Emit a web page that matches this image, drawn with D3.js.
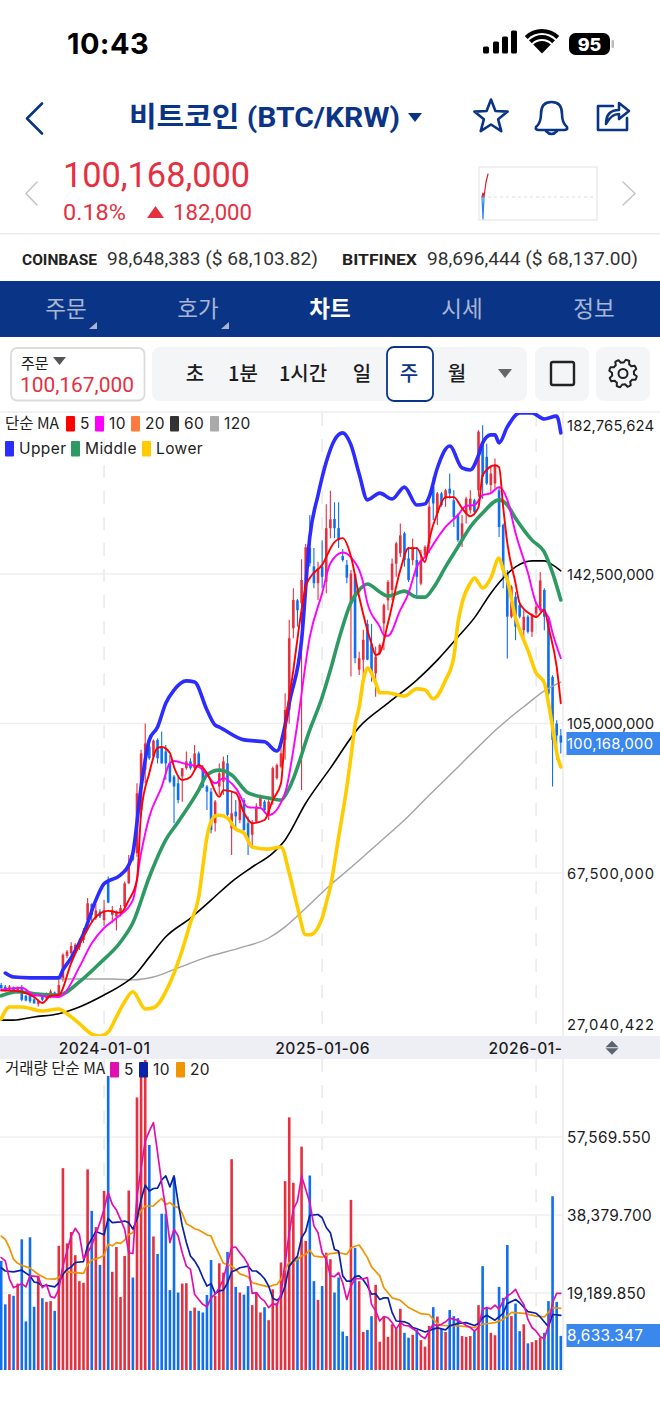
<!DOCTYPE html>
<html>
<head>
<meta charset="utf-8">
<style>
  html, body { margin: 0; padding: 0; background: #fff; }
  svg { display: block; }
  text { font-family: Inter, "Noto Sans CJK KR", sans-serif; }
  .kr { font-family: "Noto Sans CJK KR", sans-serif; }
  .rb { font-family: Roboto, "Noto Sans CJK KR", sans-serif; }
</style>
<script src="https://cdn.jsdelivr.net/npm/d3@7"></script>
</head>
<body>
<div id="chart"></div>
<script>
// weekly candles, millions of KRW, first visible week = 0
const candleOpen = [39.4,39,38.4,38.8,37.8,38.6,36.7,36.9,35.8,34.7,36.5,36.1,36.5,37.5,36.9,40.7,46.7,47.4,47.8,48.9,
  50.7,55.7,59.7,56.2,57.8,55.7,65.4,57,56.6,57.6,59.1,64.9,72.5,72.5,83.3,93.4,99.2,96.7,100.9,99.2,
  98,95,91.7,90,91.7,93.8,95.5,93.8,97.5,93.4,89.2,87.9,80,89.2,90.4,95,78.7,82.9,80.8,85.8,
  80,77.1,80.4,84.2,85.4,82.1,85.8,91.3,94.2,100.9,108.4,128.9,135.9,135.2,141,149,144.4,140.2,144.4,140.6,
  154,156.3,154,147,144.8,135,142.5,118.5,121,130,125,117.6,122.6,130.1,135.9,138.5,145.1,147.7,152.7,146.4,
  146,146,140.1,147.2,150.2,164.4,157.7,162.7,161.4,163.9,161,157.3,151.4,157.7,158.5,161,163.5,175.2,171.9,164.8,
  165.2,163.5,154.8,142.6,131.8,136.8,134.7,128.4,131.8,128,132.6,133.4,138.5,130.9,116.7,105,102];
const candleHigh = [39.9,39.4,39.4,39,39,39.4,36.9,37.8,36.5,35.7,36.9,37.5,38.3,37.8,40.7,47.4,48.2,50.1,49.9,51.1,
  53.7,61.2,59.9,59.7,58.4,60.8,66.6,59.2,58.1,59.5,65.4,72,73.1,90,98.4,105,100,101,101.3,103,
  99.6,97.1,92.1,92.1,93.8,98,96.3,99.6,98,94.6,89.6,88.8,85.8,95,96.7,97.1,87.9,85.8,87.1,86.3,
  81.7,80.8,85,87.1,85.8,86.3,94.2,95,100.9,112.6,131,138.9,136.2,146.2,150,157.3,149,145.6,151,160,
  163.4,160.5,160.5,148.8,146,143.5,142.6,123,128.5,131,130,124.3,125.1,135.1,141,146.4,150.6,155.2,153.1,149.3,
  151.4,149.3,148.5,149.7,161.9,166.9,163.1,163.1,163.9,167.7,163.5,157.7,157.3,161.9,163.5,161.4,178.6,179.8,175.2,169.8,
  171.5,164.4,155.2,143.5,139.7,138,135.1,133.4,132.2,132.6,135.5,143,138.9,131.8,117.1,105.8,103.6];
const candleLow = [38.2,37.8,38,37.8,37.3,35.3,35.3,34.8,34.7,34,35.3,35.7,36.1,36.5,36.7,40.3,46.1,47,47.4,48.2,
  49.9,54.1,55.3,55.7,56.2,54.2,59.9,54.9,53.1,56.6,58.2,64.8,70.4,71.6,81.6,90,95.9,96.3,95,94.9,
  90.9,90,80,85,85.4,93.4,93.4,93.4,94.2,88.8,83.3,77.5,77.9,87.1,87.1,81.7,72,78.7,80,78.1,
  72,74.1,80,83.7,82.5,80.8,84.6,90.9,93.8,95.9,105,126.4,129.3,88.3,141,144.4,138.9,136,138.9,137.7,
  151.5,151.5,149,145.6,140.2,116.8,120.1,117.2,115,120.9,115.5,111.7,122.2,123.4,133.4,135.9,141.8,146.8,144.3,140.5,
  144.7,137.2,139.7,146.8,147.7,156,154.8,159.4,159.4,161.4,154.3,150.6,149.3,155.2,157.7,157.7,161.9,161.4,164.8,162.7,
  163.9,151.8,138.9,121.3,131.4,125.9,131.4,126.3,127.6,126.7,131.8,133,128.4,111.7,89.2,96,97.5];
const candleClose = [38.6,38.2,39,38,38.6,35.7,35.5,35.3,34.8,35.3,35.7,36.9,37.8,36.7,39.4,47,47.8,49.2,49.5,50.3,
  53.1,59.9,57,58.1,56.6,58.2,60.1,58.2,57.8,58.7,64.9,69.5,70.8,87.5,97.5,100,96.3,100.7,96.3,95,
  95,90.4,89.2,85.8,93.8,95.5,93.8,97.5,94.6,89.2,87.9,78.3,85.4,92.5,95.5,82.1,82.5,81.7,85.8,78.3,
  75.4,80,84.2,86.3,83.3,85.4,93.8,94.6,97.5,108.4,126.4,136,133.4,141,149.2,145.2,140.2,143.9,141.8,154,
  156.2,154,151,146,141.6,142.6,121.4,121.4,126,121,117.5,121.8,124.7,134.7,140.5,145.1,150.2,152.2,146,141,
  149.3,141.8,146,149.3,159.4,160.2,162.7,159.8,163.5,162.7,156.8,151,155.2,161.4,161.4,158.1,178.2,166.9,165.2,167.7,
  169.8,154.3,143.5,131.8,139.3,129.3,131.8,131.8,128,132.2,134.3,140.9,131.8,112.5,100.9,102,100.2];

// price lines as [week, millions of KRW]
const upperBand = [[1,42.4],[3,41.4],[7,41.2],[14,41.2],[15,43.2],[17,46.2],[20,52.2],[23,60.7],[25,64.8],[29,67],[31,69.5],[32,72.5],[34,89.1],[36,100.9],[38,104.1],[40,110.1],[42,113.4],[45,115.7],[47,115.4],[50,108.4],[52,104.6],[53,104.1],[59,100.9],[64,100.4],[67,98.1],[69,104.6],[70,110.1],[73,125.9],[75,151.8],[77,162.3],[79,170.6],[81,176.1],[83,177.9],[85,174.9],[87,167.6],[89,161.1],[92,162.8],[95,161.3],[98,164.3],[101,159.8],[103,160.1],[104,161.8],[106,169.1],[109,174.6],[112,169.1],[114,168.6],[116,172.3],[117,175.4],[119,177.4],[120,177.4],[121,175.4],[123,179.4],[126,182.9],[129,182.9],[132,181.4],[135,182.1],[136,177.9]];
const middleBand = [[0,36.7],[4,37.7],[8,37.2],[14,36.9],[19,40.2],[24,44.9],[29,50.2],[32,55],[36,66.5],[40,75.8],[43,80.3],[48,88.3],[50,92.1],[53,93.3],[56,92.1],[60,87.6],[65,86.3],[68,85.8],[70,88.8],[75,103.4],[78,111.6],[80,118.4],[82,125.9],[85,135.3],[87,138.5],[89,140],[92,138],[94,137],[98,138.2],[101,136.7],[103,136.7],[105,139],[108,144.3],[111,149.3],[114,154.3],[117,157.8],[121,161.1],[123,159.8],[125,156.5],[129,151],[132,148],[134,142.8],[136,136]];
const lowerBand = [[0,30.9],[2,33.9],[5,33.9],[10,32.9],[14,33.4],[16,32.2],[19,29.7],[22,27.1],[24,26.6],[26,27.6],[28,31.4],[30,35.2],[32,37.7],[35,33.4],[37,33.7],[41,39.9],[44,48.2],[46,55],[48,61.5],[49,69],[50,76.5],[52,81.8],[53,82],[55,81.3],[57,78.5],[59,77.5],[61,74],[65,73.5],[68,74],[70,67.5],[72,59],[74,52],[75,52],[78,56.2],[79,60],[80,64],[82,76.5],[84,89.1],[85,96.6],[86,104.6],[87,109.1],[88,115.9],[89,118.9],[91,115.2],[92,112.7],[94,112.7],[98,111.9],[101,113.7],[103,113.4],[105,111.2],[108,115.9],[110,121.7],[111,130.2],[112,135.2],[114,140.2],[115,141.5],[117,139],[119,141.5],[121,146.5],[122,143.5],[123,141],[125,131.5],[126,128.5],[128,123.4],[130,117.7],[132,115.2],[133,110.1],[134,104.1],[135,97.6],[136,94.1]];
const priceMa5 = [[0,38],[2,38],[5,37.7],[8,36.4],[10,34.9],[12,36.7],[14,36.9],[17,44.9],[20,51.5],[23,56.5],[26,58],[29,57.5],[31,60.7],[33,65.8],[34,82.6],[36,92.6],[38,98.9],[39,99.1],[41,97.6],[42,94.1],[44,90.8],[46,91.6],[48,94.6],[50,92.6],[53,86.6],[54,88.3],[57,87.6],[59,82.6],[61,80],[64,80.8],[66,85.8],[68,90],[69,103.4],[71,118.4],[73,133.5],[74,139.3],[75,141.5],[78,144.8],[81,150.5],[83,151.5],[85,146.9],[87,136.8],[90,125],[91,122.2],[92,122.7],[94,130.2],[97,143.5],[99,149],[101,149],[103,145.5],[104,151],[106,157.8],[108,161.8],[110,161.8],[112,159],[114,157],[116,159.3],[117,167.3],[120,169.8],[121,169.3],[122,159.3],[123,150.3],[125,140.2],[126,135.2],[129,132.2],[130,131.7],[132,133.5],[133,129.2],[135,119.2],[136,110.1]];
const priceMa10 = [[0,38.2],[5,38.7],[8,36.9],[14,36.4],[15,36.9],[19,43.9],[22,49.9],[25,53.7],[28,56.2],[32,60.7],[34,72.5],[36,81.6],[39,89.1],[41,95.1],[42,95.6],[45,94.8],[48,94.1],[50,92.1],[52,90],[54,91.3],[57,88.8],[60,84],[63,83.8],[65,82],[69,87.6],[71,98.4],[72,105.1],[75,126.7],[78,137.7],[80,145.2],[83,147.9],[85,146.7],[88,140.2],[89,135.2],[92,129.3],[93,127.2],[94,127],[97,133.5],[99,137.7],[101,144.3],[103,146.8],[106,151.5],[108,154.3],[111,157.3],[113,159.6],[115,159.8],[117,162.3],[119,162.8],[121,164.3],[123,161.1],[125,152.8],[128,142.8],[130,135.2],[133,131.7],[134,127.7],[136,121.4]];
const priceMa60 = [[0,30.6],[3,30.6],[8,31.4],[14,32.2],[19,33.9],[25,36.9],[30,39.9],[32,41.4],[36,46.4],[40,51.5],[46,56.2],[51,60.7],[56,65.3],[61,69],[66,72.5],[69,75.8],[74,85],[80,93.8],[87,104.1],[94,110.1],[101,115.9],[106,120.9],[111,126.7],[115,131.5],[119,137.7],[122,141.5],[125,144.3],[129,145.8],[132,145.8],[134,144.8],[136,143.3]];
const priceMa120 = [[1,42.4],[2,41.9],[8,41.2],[16,40.9],[27,40.9],[32,40.7],[37,41.4],[43,43.7],[50,46.4],[58,48.7],[65,51.2],[69,54],[73,57.7],[80,64.5],[84,68],[92,75.3],[98,80.8],[104,87],[112,95.1],[121,104.1],[123,105.9],[127,109.2],[132,113.2],[136,115.4]];

// weekly volume, thousands of BTC
const volume = [27.1,16.4,18.9,18.5,21.5,32.4,12.2,32.9,15.8,23.4,17.9,17,17.2,14.8,30.8,49.9,31.4,34.2,28.5,22.1,
  21.7,49.6,39.4,35.4,26.1,44.3,72.6,24.4,30.5,18.2,28.3,44.4,23,67.3,75,76.5,55.6,33.1,28.8,38.7,
  38.7,19.9,47.6,19.3,21.5,21.6,14.8,15.6,14.8,14.4,18.7,27.3,18.5,26.5,24.2,29.3,52.1,20.7,19.3,18.8,
  20.9,16.2,19.4,14.4,15.7,12.5,20.1,16.8,26.7,46.7,62.4,46.3,28.1,55.2,32,48.1,22.1,17.5,20.9,29.1,
  27.5,19.3,23,9.7,8.6,42.1,30.3,22.1,9.6,10.1,13.5,21.2,7.2,13.4,8.4,11.5,10.3,15.3,9.4,8.2,
  8.9,10.1,7.6,6,11.1,15.7,13.4,10.3,9.6,15,13.5,13,8.6,8.4,8.6,9.8,16.2,25.8,15.6,9.4,
  8.8,20.7,18,31,13.5,16.6,9.8,11.5,6.8,7.1,7.6,8.2,9.4,17.2,43,17,8.633];
const volMa5 = [[0,27.9],[1,27.1],[2,22.6],[3,20.5],[5,21.5],[6,20.7],[7,23.4],[9,23.2],[10,20.5],[11,21.3],[12,18.3],[13,18],[14,20.1],[15,25.8],[17,33.2],[18,35.1],[19,33.6],[20,27.5],[22,30.8],[24,36.5],[25,39.8],[26,43.9],[27,41],[28,39.6],[29,37.3],[30,34.9],[31,29.1],[32,28.9],[33,43],[35,56.6],[36,59],[37,61.1],[38,53.7],[39,46.3],[40,39.8],[41,31.6],[42,34.9],[43,33.2],[44,29.1],[45,25.8],[46,25],[47,18.9],[48,17.6],[49,16.4],[50,15.8],[51,18],[52,18.9],[53,20.5],[54,22.6],[55,26.7],[56,30.3],[57,30.5],[58,29.1],[59,27.9],[60,26.2],[61,19.1],[62,19.3],[63,18],[64,17.2],[65,15.6],[66,16.6],[67,16.2],[68,18.9],[69,26.7],[70,34],[71,39.8],[72,41.8],[73,48],[74,44.7],[75,41.4],[76,35.7],[77,34],[78,29.1],[79,27.5],[80,23.4],[81,23.2],[82,24.2],[83,21.7],[84,17.6],[85,20.9],[86,22.7],[87,22.7],[88,22.7],[89,23],[90,16.4],[91,14.8],[92,12.3],[93,13.4],[94,13.1],[95,11.9],[96,10.3],[97,11.9],[98,11.2],[99,11.1],[100,10.4],[101,9.8],[102,8.6],[103,8],[104,9.8],[105,11.5],[106,11.1],[107,11.5],[108,12.1],[109,13],[110,12.7],[111,12.5],[112,11.9],[113,11.2],[114,10.7],[115,9.8],[116,10.7],[117,15.2],[118,15.6],[119,15.3],[120,16.2],[121,15.2],[122,17.2],[123,18.5],[124,19.1],[125,20.1],[126,18],[127,16.4],[128,12.7],[129,10.7],[130,9.8],[131,8.4],[132,8],[133,11.1],[134,16.8],[135,19.1],[136,19.1]];
const volMa10 = [[0,25.4],[1,24.6],[3,24.4],[5,24.8],[7,23.4],[8,21.9],[9,21.7],[10,20.9],[11,21.1],[13,20.7],[14,21.7],[15,23.8],[16,25],[17,25.6],[18,26.7],[20,26.9],[21,30.8],[23,34.3],[25,33.5],[26,37.5],[27,36.5],[29,36.7],[30,36.9],[31,36.5],[32,34.9],[33,37.3],[34,42.2],[35,45.7],[36,44.3],[37,44.9],[38,45],[39,47],[40,48],[41,45.3],[42,48],[43,41.4],[44,35.7],[45,31.6],[46,28.3],[47,27.1],[48,25.4],[49,23],[50,20.9],[51,21.5],[52,19.1],[53,19.7],[54,19.9],[55,21.7],[56,24.4],[57,24.8],[58,25.4],[60,25.8],[61,24.6],[62,24.6],[63,23.8],[64,22.7],[65,20.9],[66,17.9],[67,17.4],[68,18.3],[69,20.9],[70,25.8],[72,28.3],[73,32.8],[74,34.4],[75,38.3],[77,38.5],[78,37.7],[79,35.3],[80,34],[81,29.9],[82,29.5],[83,23.4],[84,22.1],[85,22.1],[86,23.2],[87,23.4],[88,22.4],[89,20.9],[90,18.9],[91,19],[92,17.6],[93,18],[94,18],[95,14.4],[96,12.3],[98,12.1],[99,11.7],[100,10.7],[101,10.4],[103,9.6],[105,10.3],[106,10.6],[108,10.1],[109,11.1],[111,11.7],[113,11.9],[115,11.2],[116,11.7],[117,13.1],[118,13.7],[120,12.5],[122,14.2],[123,16.6],[125,17.6],[126,16.8],[128,14.6],[130,14.2],[131,13.3],[133,10.9],[134,13.9],[135,13.8],[136,13.7]];
const volMa20 = [[0,33.2],[1,32.4],[2,30.3],[3,27.5],[4,26.5],[5,26],[7,25.3],[9,23.8],[11,22.7],[13,22.6],[14,23],[15,24.2],[16,24.4],[18,24.2],[20,24],[21,26.2],[22,27.3],[24,27.9],[25,28.5],[26,31.2],[27,30.8],[28,31.6],[29,31.4],[30,32.2],[31,33.6],[32,34],[33,37.3],[34,39.4],[35,40.6],[37,40.6],[38,41.6],[39,42.4],[40,41],[41,41.4],[42,40.6],[43,40.2],[44,38.8],[45,36.2],[46,35.7],[47,35],[48,34.7],[50,33.5],[51,33.2],[52,30.8],[53,28.7],[54,26.5],[55,26.2],[56,25.8],[57,25],[58,23.9],[60,23.2],[61,21.7],[63,21.2],[65,20.7],[66,21.1],[67,21.3],[68,22.6],[69,25],[70,26.7],[71,26.7],[73,28.3],[74,28.7],[75,29.7],[76,28.3],[78,28],[80,28.9],[82,29.1],[84,28.7],[85,30.3],[86,30.7],[87,31],[88,29.5],[89,27.9],[90,25.6],[92,23.4],[93,20.5],[95,18],[97,17.4],[99,15.6],[102,14.1],[104,13.9],[105,12.7],[106,11.7],[107,11.2],[111,11.1],[115,10.7],[117,11.5],[120,11.9],[122,12.7],[124,14.4],[127,14.2],[130,13.5],[132,13.3],[134,15.6],[136,15.4]];

const priceTicks = [182.765624, 142.5, 105, 67.5, 27.040422];
const volumeTicks = [57.56955, 38.3797, 19.18985];
const dateTicks = [25, 78, 130];
const dateLabels = ["2024-01-01", "2025-01-06", "2026-01-"];
const lastPrice = 100.168;
const lastVolume = 8.633347;

const priceLegend = [["5", "#ff0000"], ["10", "#ff00ff"], ["20", "#ff7a3d"], ["60", "#333333"], ["120", "#a9a9a9"]];
const bandLegend = [["Upper", "#2c2cff"], ["Middle", "#2e9a63"], ["Lower", "#ffcc00"]];
const volLegend = [["5", "#e010b0"], ["10", "#0a22a8"], ["20", "#f09400"]];
const tabs = ["주문", "호가", "차트", "시세", "정보"];
const periods = [["초", 195], ["1분", 243], ["1시간", 303], ["일", 362], ["주", 409], ["월", 457]];

const navy = "#0a3587", red = "#e5303f", blue = "#0f6ff0", tagBlue = "#3a87ee", ink = "#1c1c1e";
const width = 660, height = 1428;

const svg = d3.select("#chart").append("svg").attr("width", width).attr("height", height);
const defs = svg.append("defs");
defs.append("clipPath").attr("id", "priceClip").append("rect").attr("x", 0).attr("y", 413).attr("width", 563).attr("height", 623);
defs.append("clipPath").attr("id", "volClip").append("rect").attr("x", 0).attr("y", 1059).attr("width", 563).attr("height", 311);

const x = d3.scaleLinear().domain([0, 136]).range([1.2, 560.8]);
const yPrice = d3.scaleLinear().domain([27.040422, 182.765624]).range([1034.3, 413.5]);
const yVol = d3.scaleLinear().domain([0, 19.18985 * 4]).range([1371, 1059]);

function txt(parent, s, px, py, size, fill, opts = {}) {
    const t = parent.append("text")
        .attr("x", px).attr("y", py)
        .attr("font-size", size).attr("fill", fill)
        .attr("font-weight", opts.weight || 400)
        .attr("text-anchor", opts.anchor || "start")
        .attr("class", opts.cls || null)
        .attr("letter-spacing", opts.spacing || null)
        .text(s);
    if (opts.len) t.attr("textLength", opts.len).attr("lengthAdjust", "spacingAndGlyphs");
    return t;
}

function triangle(parent, cx, cy, w, h, fill, up) {
    const s = up ? -1 : 1;
    parent.append("path")
        .attr("d", `M${cx - w / 2},${cy - s * h / 2}L${cx + w / 2},${cy - s * h / 2}L${cx},${cy + s * h / 2}Z`)
        .attr("fill", fill);
}

drawStatusBar();
drawHeader();
drawToolbar();
drawPricePane();
drawVolumePane();

function drawStatusBar() {
    const g = svg.append("g");
    txt(g, "10:43", 67, 54, 29, "#000", { weight: 700, spacing: "0.4" }).attr("font-family", "Inter");
    [[483, 7], [493, 12], [502, 17], [511, 23]].forEach(([bx, bh]) => {
        g.append("rect").attr("x", bx).attr("y", 53.5 - bh).attr("width", 6).attr("height", bh).attr("rx", 1.5).attr("fill", "#000");
    });
    const arc = d3.arc().startAngle(-0.78).endAngle(0.78);
    [[10.5, 14.5], [16.5, 20.5], [22.5, 26.5]].forEach(([r0, r1], i) => {
        g.append("path").attr("transform", "translate(542,53.5)")
            .attr("d", arc({ innerRadius: i === 0 ? 0 : r0 - 2, outerRadius: r1 - 2 })).attr("fill", "#000");
    });
    g.append("rect").attr("x", 569).attr("y", 33).attr("width", 41).attr("height", 22).attr("rx", 6.5).attr("fill", "#000");
    g.append("rect").attr("x", 611.5).attr("y", 40).attr("width", 2.5).attr("height", 8).attr("rx", 1).attr("fill", "#bbb");
    txt(g, "95", 589.5, 51, 18, "#fff", { weight: 800, anchor: "middle" });
}

function drawHeader() {
    const g = svg.append("g");
    const stroke = (d, w = 2.6, c = navy) => g.append("path").attr("d", d).attr("fill", "none").attr("stroke", c)
        .attr("stroke-width", w).attr("stroke-linecap", "round").attr("stroke-linejoin", "round");

    stroke("M42,103.5L27,118.5L42,133.5");
    txt(g, "비트코인 (BTC/KRW)", 129, 127, 28, navy, { weight: 700, cls: "rb", len: 271 });
    triangle(g, 415, 117.5, 14, 9, navy);

    // star
    const star = d3.range(10).map(i => {
        const r = i % 2 ? 7.5 : 17.5, a = -Math.PI / 2 + i * Math.PI / 5;
        return [491 + r * Math.cos(a), 117 + r * Math.sin(a)];
    });
    stroke(d3.line().curve(d3.curveLinearClosed)(star));
    // bell
    stroke("M536,127Q541,123 541,114Q541,102 551.5,102Q562,102 562,114Q562,123 567,127Q568,130 564,130L539,130Q535,130 536,127Z");
    stroke("M546,131Q551.5,137 557,131");
    // share
    stroke("M613,106L598,106L598,130L627,130L627,118");
    stroke("M606,124Q606,110 619,110L619,103L629,111L619,119L619,114Q611,114 606,124Z");

    txt(g, "100,168,000", 63, 187, 35, red, { cls: "rb", len: 187 });
    txt(g, "0.18%", 63, 220, 21.5, red, { cls: "rb", len: 63 });
    triangle(g, 155.5, 212, 17, 12, red, true);
    txt(g, "182,000", 173, 220, 21.5, red, { cls: "rb", len: 79 });

    stroke("M37,182L26,193.5L37,205", 1.5, "#c4c4c4");
    stroke("M623,182L635,193.5L623,205", 1.5, "#c4c4c4");

    g.append("rect").attr("x", 479).attr("y", 167).attr("width", 118).attr("height", 53).attr("fill", "#fff").attr("stroke", "#e6e6e6").attr("stroke-width", 1.2);
    g.append("line").attr("x1", 482).attr("x2", 594).attr("y1", 197).attr("y2", 197).attr("stroke", "#dedede").attr("stroke-dasharray", "3,3");
    stroke("M482,197L483,193L484,197L486,182L488,174", 1.2, "#dd2030");
    stroke("M482,197L483,219L484,197", 1.2, "#2a86ee");

    g.append("rect").attr("x", 0).attr("y", 233).attr("width", width).attr("height", 1.5).attr("fill", "#ededed");

    txt(g, "COINBASE", 22, 265, 15, "#222", { weight: 700, cls: "rb", len: 75 });
    txt(g, "98,648,383 ($ 68,103.82)", 107, 265, 18, "#333", { cls: "rb", len: 211 });
    txt(g, "BITFINEX", 342, 265, 15, "#222", { weight: 700, cls: "rb", len: 75 });
    txt(g, "98,696,444 ($ 68,137.00)", 427, 265, 18, "#333", { cls: "rb", len: 211 });

    g.append("rect").attr("x", 0).attr("y", 281).attr("width", width).attr("height", 56).attr("fill", navy);
    tabs.forEach((t, i) => {
        const cx = 66 + i * 132;
        txt(g, t, cx, 317, 22.5, i === 2 ? "#fff" : "#a8b6d4", { anchor: "middle", weight: i === 2 ? 700 : 400, cls: "kr" });
        if (i < 2) {
            g.append("path").attr("d", `M${cx + 31},322L${cx + 31},329L${cx + 23},329Z`).attr("fill", "#a8b6d4");
        }
    });
}

function drawToolbar() {
    const g = svg.append("g");
    g.append("rect").attr("x", 11).attr("y", 348).attr("width", 133.5).attr("height", 52.5).attr("rx", 6)
        .attr("fill", "#fff").attr("stroke", "#dcdcdc").attr("stroke-width", 1.8);
    txt(g, "주문", 21, 369, 15, ink, { cls: "kr" });
    triangle(g, 59.5, 361, 13, 8, "#555");
    txt(g, "100,167,000", 20, 392, 20, red, { cls: "rb", len: 114 });

    g.append("rect").attr("x", 152).attr("y", 347).attr("width", 375).attr("height", 54).attr("rx", 8).attr("fill", "#f4f5f7");
    g.append("rect").attr("x", 387).attr("y", 347).attr("width", 46).attr("height", 54).attr("rx", 7)
        .attr("fill", "#fff").attr("stroke", navy).attr("stroke-width", 1.8);
    periods.forEach(([p, cx]) => {
        txt(g, p, cx, 381, 20, p === "주" ? navy : ink, { anchor: "middle", weight: 500, cls: "kr" });
    });
    triangle(g, 505, 373.5, 14, 9, "#666");

    g.append("rect").attr("x", 535).attr("y", 347).attr("width", 54).attr("height", 54).attr("rx", 8).attr("fill", "#f4f5f7");
    g.append("rect").attr("x", 551).attr("y", 362).attr("width", 23).attr("height", 23).attr("rx", 2).attr("fill", "none").attr("stroke", "#222").attr("stroke-width", 2.4);
    g.append("rect").attr("x", 596).attr("y", 347).attr("width", 54).attr("height", 54).attr("rx", 8).attr("fill", "#f4f5f7");

    // gear
    const gearPts = d3.range(48).map(i => {
        const a = i / 48 * 2 * Math.PI, tooth = (i % 6) < 3;
        return [623 + (tooth ? 14 : 11) * Math.cos(a + 0.2), 373.5 + (tooth ? 14 : 11) * Math.sin(a + 0.2)];
    });
    g.append("path").attr("d", d3.line().curve(d3.curveLinearClosed)(gearPts)).attr("fill", "none").attr("stroke", "#222").attr("stroke-width", 2).attr("stroke-linejoin", "round");
    g.append("circle").attr("cx", 623).attr("cy", 373.5).attr("r", 4.5).attr("fill", "none").attr("stroke", "#222").attr("stroke-width", 2);
}

function swatchRow(g, entries, y0) {
    entries.forEach(d => {
        g.append("rect").attr("x", d.x).attr("y", y0).attr("width", 9).attr("height", 15.5).attr("rx", 1).attr("fill", d.color);
        txt(g, d.label, d.x + 14, y0 + 13, 15.5, "#222", { spacing: "0.4" });
    });
}

function gridAndDates(g, yTop, yBottom) {
    // dashed year lines
    g.selectAll(null).data(dateTicks).join("line")
        .attr("x1", d => x(d)).attr("x2", d => x(d))
        .attr("y1", yTop).attr("y2", yBottom)
        .attr("stroke", "#e9e9ed").attr("stroke-width", 1.5).attr("stroke-dasharray", "13,13");
}

function drawLine(g, data, xs, ys, color, w, curve) {
    const gen = d3.line().x(d => xs(d[0])).y(d => ys(d[1])).curve(curve || d3.curveLinear);
    g.append("path").attr("d", gen(data)).attr("fill", "none")
        .attr("stroke", color).attr("stroke-width", w)
        .attr("stroke-linejoin", "round").attr("stroke-linecap", "round");
}

function drawPricePane() {
    const g = svg.append("g");
    g.append("rect").attr("x", 0).attr("y", 411).attr("width", width).attr("height", 2).attr("fill", "#f2f2f4");
    gridAndDates(g, 413, 1034);

    g.selectAll(null).data(priceTicks.slice(1, 4)).join("line")
        .attr("x1", 0).attr("x2", 563).attr("y1", d => yPrice(d)).attr("y2", d => yPrice(d))
        .attr("stroke", "#efeff2").attr("stroke-width", 1.5);
    g.append("line").attr("x1", 563).attr("x2", 563).attr("y1", 411).attr("y2", 1036).attr("stroke", "#e4e4e8").attr("stroke-width", 1.2);

    const plot = g.append("g").attr("clip-path", "url(#priceClip)");
    const weeks = d3.range(candleOpen.length);
    const color = i => candleClose[i] >= candleOpen[i] ? red : blue;

    plot.selectAll(".wick").data(weeks).join("line").attr("class", "wick")
        .attr("x1", x).attr("x2", x)
        .attr("y1", i => yPrice(candleHigh[i])).attr("y2", i => yPrice(candleLow[i]))
        .attr("stroke", color).attr("stroke-width", 1.1);
    plot.selectAll(".body").data(weeks).join("rect").attr("class", "body")
        .attr("x", i => x(i) - 1.3).attr("width", 2.6)
        .attr("y", i => yPrice(Math.max(candleOpen[i], candleClose[i])))
        .attr("height", i => Math.max(1, Math.abs(yPrice(candleOpen[i]) - yPrice(candleClose[i]))))
        .attr("fill", color);

    const smooth = d3.curveMonotoneX;
    drawLine(plot, priceMa120, x, yPrice, "#a3a3a3", 1.4, smooth);
    drawLine(plot, priceMa60, x, yPrice, "#000", 1.6, smooth);
    drawLine(plot, lowerBand, x, yPrice, "#ffcc00", 3.6, smooth);
    drawLine(plot, middleBand, x, yPrice, "#2e9a63", 3.6, smooth);
    drawLine(plot, upperBand, x, yPrice, "#2c2cff", 3.6, smooth);
    drawLine(plot, priceMa10, x, yPrice, "#ff00ff", 1.9, smooth);
    drawLine(plot, priceMa5, x, yPrice, "#ff0000", 1.9, smooth);

    // price axis
    const axis = g.append("g").attr("transform", "translate(563,0)")
        .call(d3.axisRight(yPrice).tickValues(priceTicks).tickSize(0).tickPadding(4)
            .tickFormat(d => d3.format(",")(Math.round(d * 1e6))));
    axis.select(".domain").remove();
    axis.selectAll("text").attr("font-size", 14.8).attr("fill", ink).attr("font-family", "Inter")
        .attr("textLength", 87).attr("lengthAdjust", "spacing")
        .attr("dy", d => d === priceTicks[0] ? 11.5 + 5 : d === priceTicks[4] ? -10 + 5 : 5);

    g.append("rect").attr("x", 566.5).attr("y", 732).attr("width", 94).attr("height", 23).attr("fill", tagBlue);
    txt(g, d3.format(",")(Math.round(lastPrice * 1e6)), 567, 749, 14.8, "#fff").attr("font-family", "Inter").attr("textLength", 86).attr("lengthAdjust", "spacing");

    // legend
    txt(g, "단순 MA", 5, 429, 15.5, "#222", { cls: "kr" });
    swatchRow(g, priceLegend.map((d, i) => ({ label: d[0], color: d[1], x: [66, 95, 131, 170, 210][i] })), 416);
    swatchRow(g, bandLegend.map((d, i) => ({ label: d[0], color: d[1], x: [5, 71, 142][i] })), 441);

    // date band
    g.append("rect").attr("x", 0).attr("y", 1036).attr("width", width).attr("height", 23).attr("fill", "#eeeff4");
    const dates = g.append("g").attr("transform", "translate(0,1053.5)")
        .call(d3.axisBottom(x).tickValues(dateTicks).tickSize(0).tickPadding(0).tickFormat((d, i) => dateLabels[i]));
    dates.select(".domain").remove();
    dates.selectAll("text").attr("font-size", 15.6).attr("fill", ink).attr("font-family", "Inter").attr("font-weight", 500)
        .attr("letter-spacing", "0.5").attr("y", 0).attr("dy", 0)
        .attr("text-anchor", (d, i) => i === 2 ? "end" : "middle")
        .attr("x", (d, i) => i === 2 ? 562 - x(d) : 0);
    triangle(g, 612, 1044, 13, 6.5, "#5d6470", true);
    triangle(g, 612, 1051.5, 13, 6.5, "#5d6470");
}

function drawVolumePane() {
    const g = svg.append("g");
    gridAndDates(g, 1059, 1370);
    g.selectAll(null).data(volumeTicks).join("line")
        .attr("x1", 0).attr("x2", 563).attr("y1", d => yVol(d)).attr("y2", d => yVol(d))
        .attr("stroke", "#efeff2").attr("stroke-width", 1.5);
    g.append("line").attr("x1", 563).attr("x2", 563).attr("y1", 1059).attr("y2", 1370).attr("stroke", "#e4e4e8").attr("stroke-width", 1.2);

    const plot = g.append("g").attr("clip-path", "url(#volClip)");
    plot.selectAll("rect").data(volume).join("rect")
        .attr("x", (d, i) => x(i) - 1.3).attr("width", 2.6)
        .attr("y", d => yVol(d)).attr("height", d => yVol(0) - yVol(d))
        .attr("fill", (d, i) => candleClose[i] >= candleOpen[i] ? red : blue);

    drawLine(plot, volMa20, x, yVol, "#f09400", 1.7);
    drawLine(plot, volMa10, x, yVol, "#0a22a8", 1.7);
    drawLine(plot, volMa5, x, yVol, "#e010b0", 1.7);

    const axis = g.append("g").attr("transform", "translate(563,0)")
        .call(d3.axisRight(yVol).tickValues(volumeTicks).tickSize(0).tickPadding(4)
            .tickFormat(d => d3.format(",.3f")(d * 1000)));
    axis.select(".domain").remove();
    axis.selectAll("text").attr("font-size", 15.4).attr("fill", ink).attr("font-family", "Inter").attr("letter-spacing", "0.3").attr("dy", 5);

    g.append("rect").attr("x", 566.5).attr("y", 1324).attr("width", 94).attr("height", 23).attr("fill", tagBlue);
    txt(g, d3.format(",.3f")(lastVolume * 1000), 567, 1341, 15.4, "#fff", { spacing: "0.3" }).attr("font-family", "Inter");

    txt(g, "거래량 단순 MA", 5, 1074, 15.5, "#222", { cls: "kr" });
    swatchRow(g, volLegend.map((d, i) => ({ label: d[0], color: d[1], x: [110, 139, 176][i] })), 1062);
}
</script>
</body>
</html>
